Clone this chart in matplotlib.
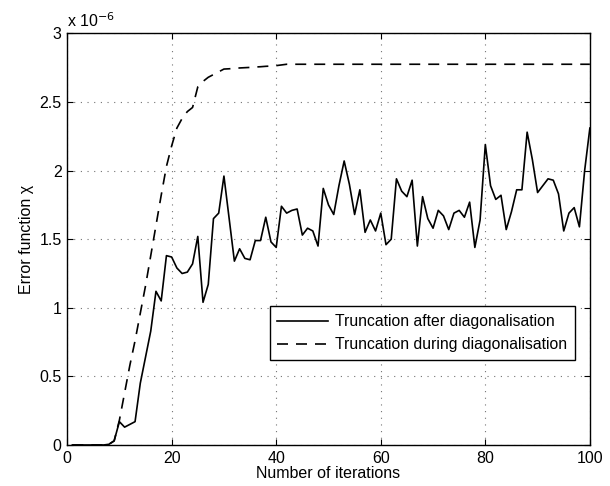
import matplotlib
matplotlib.use("Agg")
import matplotlib.pyplot as plt
import numpy as np

plt.rcParams['font.family'] = ['Liberation Sans', 'DejaVu Sans']

iterations = list(range(1, 101))

after_diag = [
    0, 0, 0, 0, 0, 0, 0, 0.005, 0.03, 0.17,          # 1-10
    0.13, 0.15, 0.17, 0.45, 0.64, 0.83, 1.12, 1.05, 1.38, 1.37,   # 11-20
    1.29, 1.25, 1.26, 1.32, 1.52, 1.04, 1.17, 1.65, 1.69, 1.96,   # 21-30
    1.65, 1.34, 1.43, 1.36, 1.35, 1.49, 1.49, 1.66, 1.48, 1.44,   # 31-40
    1.74, 1.69, 1.71, 1.72, 1.53, 1.58, 1.56, 1.45, 1.87, 1.75,   # 41-50
    1.68, 1.89, 2.07, 1.90, 1.68, 1.86, 1.55, 1.64, 1.56, 1.69,   # 51-60
    1.46, 1.50, 1.94, 1.85, 1.81, 1.93, 1.45, 1.81, 1.65, 1.58,   # 61-70
    1.71, 1.67, 1.57, 1.69, 1.71, 1.66, 1.77, 1.44, 1.64, 2.19,   # 71-80
    1.89, 1.79, 1.82, 1.57, 1.70, 1.86, 1.86, 2.28, 2.08, 1.84,   # 81-90
    1.89, 1.94, 1.93, 1.83, 1.56, 1.69, 1.73, 1.59, 2.00, 2.31,   # 91-100
]

during_diag = [
    0, 0, 0, 0, 0, 0, 0, 0.005, 0.03, 0.18,          # 1-10
    0.38, 0.58, 0.76, 0.96, 1.16, 1.38, 1.60, 1.82, 2.03, 2.18,   # 11-20
    2.31, 2.38, 2.43, 2.46, 2.61, 2.65, 2.68, 2.70, 2.72, 2.74,   # 21-30
    2.742, 2.745, 2.748, 2.75, 2.752, 2.755, 2.757, 2.76, 2.762, 2.765,  # 31-40
    2.77, 2.775, 2.775, 2.775, 2.775, 2.775, 2.775, 2.775, 2.775, 2.775,  # 41-50
] + [2.775] * 50

x_ticks = [0, 20, 40, 60, 80, 100]
y_ticks = [0, 0.5, 1, 1.5, 2, 2.5, 3]
y_tick_labels = ['0', '0.5', '1', '1.5', '2', '2.5', '3']

FS = 11.5

fig = plt.figure(figsize=(6.10, 4.86), dpi=100)
ax = fig.add_axes([0.110, 0.0844, 0.857, 0.8469])

ax.plot(iterations, after_diag, color='black', lw=1.2, linestyle='-',
        label='Truncation after diagonalisation')
ax.plot(iterations, during_diag, color='black', lw=1.2, linestyle=(0, (6.6, 4.8)),
        label='Truncation during diagonalisation')

ax.set_xlim(0, 100)
ax.set_ylim(0, 3)
ax.set_xticks(x_ticks)
ax.set_yticks(y_ticks)
ax.set_yticklabels(y_tick_labels)
ax.tick_params(direction='in', length=4, width=0.8, top=True, right=True,
               labelsize=FS, pad=4)
for s in ax.spines.values():
    s.set_linewidth(1.0)

ax.grid(True, color='0.45', linestyle=(0, (1, 5)), linewidth=0.8)

ax.set_xlabel('Number of iterations', fontsize=FS, labelpad=0)
ax.set_ylabel('Error function χ', fontsize=FS, labelpad=4)

ax.text(0.0, 1.008, r'x 10$^{-6}$', transform=ax.transAxes, fontsize=FS,
        ha='left', va='bottom')

leg = ax.legend(loc='lower right', bbox_to_anchor=(0.971, 0.2065), fontsize=11.3,
                frameon=True, fancybox=False, handlelength=3.2,
                borderpad=0.5, labelspacing=0.5, handletextpad=0.45,
                borderaxespad=0)
leg.get_frame().set_edgecolor('black')
leg.get_frame().set_linewidth(1.0)
leg.get_frame().set_alpha(1)

fig.savefig('out.png', dpi=100)
